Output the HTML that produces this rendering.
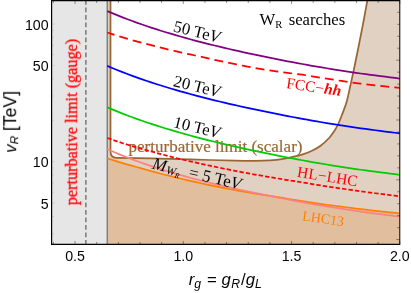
<!DOCTYPE html>
<html><head><meta charset="utf-8"><title>plot</title>
<style>html,body{margin:0;padding:0;background:#fff;overflow:hidden}svg{display:block;will-change:transform}.sans{font-family:"Liberation Sans",sans-serif}.serif{font-family:"Liberation Serif",serif}</style></head>
<body>
<svg width="411" height="293" viewBox="0 0 411 293">
<defs><clipPath id="cp"><rect x="51.6" y="0.6" width="348.2" height="243.7"/></clipPath></defs>
<g clip-path="url(#cp)">
<rect x="51.6" y="0" width="55.7" height="250" fill="#e6e6e6"/>
<path d="M107.3 -2 L107.3 250 L410 250 L410 -2 Z M110.5 -2 L110.5 151.5 C110.5 155.8 112.5 157.8 116.5 157.8 C122.08 157.88 139.42 158.08 150.00 158.30 C160.58 158.52 170.00 158.82 180.00 159.10 C190.00 159.38 200.83 159.73 210.00 160.00 C219.17 160.27 227.50 160.55 235.00 160.70 C242.50 160.85 249.17 160.95 255.00 160.90 C260.83 160.85 265.50 160.70 270.00 160.40 C274.50 160.10 277.83 159.77 282.00 159.10 C286.17 158.43 291.42 157.22 295.00 156.40 C298.58 155.58 300.67 155.13 303.50 154.20 C306.33 153.27 309.15 152.22 312.00 150.80 C314.85 149.38 317.75 147.83 320.60 145.70 C323.45 143.57 326.83 140.42 329.10 138.00 C331.37 135.58 332.63 133.62 334.20 131.20 C335.77 128.78 337.22 126.20 338.50 123.50 C339.78 120.80 340.55 118.58 341.90 115.00 C343.25 111.42 345.17 107.00 346.60 102.00 C348.03 97.00 349.23 90.67 350.50 85.00 C351.77 79.33 352.90 74.17 354.20 68.00 C355.50 61.83 356.83 55.33 358.30 48.00 C359.77 40.67 361.42 32.33 363.00 24.00 C364.58 15.67 367.00 2.33 367.80 -2.00 Z" fill="#e0d1c2" fill-rule="evenodd"/>
<path d="M107.30 158.26 L112.17 159.87 L117.05 161.41 L121.92 162.90 L126.80 164.32 L131.68 165.68 L136.55 167.00 L141.43 168.32 L146.30 169.74 L151.18 171.11 L156.05 172.44 L160.93 173.72 L165.80 174.97 L170.68 176.18 L175.55 177.36 L180.43 178.51 L185.30 179.68 L190.18 180.82 L195.05 181.94 L199.93 183.03 L204.80 184.09 L209.68 185.12 L214.55 186.13 L219.43 187.12 L224.30 188.08 L229.18 189.02 L234.05 189.93 L238.93 190.81 L243.80 191.68 L248.68 192.52 L253.55 193.35 L258.43 194.15 L263.30 194.92 L268.18 195.69 L273.05 196.44 L277.93 197.18 L282.80 197.96 L287.68 198.77 L292.55 199.57 L297.43 200.36 L302.30 201.13 L307.18 201.89 L312.05 202.64 L316.93 203.37 L321.80 204.08 L326.68 204.74 L331.55 205.39 L336.43 206.01 L341.30 206.63 L346.18 207.23 L351.05 207.84 L355.93 208.48 L360.80 209.10 L365.68 209.67 L370.55 210.24 L375.43 210.79 L380.30 211.34 L385.18 211.87 L390.05 212.41 L394.93 212.93 L399.80 213.44 L399.8 250 L107.3 250 Z" fill="#e1bf9e"/>
<line x1="107.3" y1="0" x2="107.3" y2="250" stroke="#808080" stroke-width="1.5"/>
<line x1="85.85" y1="0" x2="85.85" y2="250" stroke="#7f7f7f" stroke-width="1.6" stroke-dasharray="4.7 2.8"/>
<text class="serif" opacity="0.99" font-size="17" x="128.5" y="151.9" fill="#996633" stroke="#996633" stroke-width="0.2" textLength="174" lengthAdjust="spacingAndGlyphs">perturbative limit (scalar)</text>
<path d="M110.5 -2 L110.5 151.5 C110.5 155.8 112.5 157.8 116.5 157.8 C122.08 157.88 139.42 158.08 150.00 158.30 C160.58 158.52 170.00 158.82 180.00 159.10 C190.00 159.38 200.83 159.73 210.00 160.00 C219.17 160.27 227.50 160.55 235.00 160.70 C242.50 160.85 249.17 160.95 255.00 160.90 C260.83 160.85 265.50 160.70 270.00 160.40 C274.50 160.10 277.83 159.77 282.00 159.10 C286.17 158.43 291.42 157.22 295.00 156.40 C298.58 155.58 300.67 155.13 303.50 154.20 C306.33 153.27 309.15 152.22 312.00 150.80 C314.85 149.38 317.75 147.83 320.60 145.70 C323.45 143.57 326.83 140.42 329.10 138.00 C331.37 135.58 332.63 133.62 334.20 131.20 C335.77 128.78 337.22 126.20 338.50 123.50 C339.78 120.80 340.55 118.58 341.90 115.00 C343.25 111.42 345.17 107.00 346.60 102.00 C348.03 97.00 349.23 90.67 350.50 85.00 C351.77 79.33 352.90 74.17 354.20 68.00 C355.50 61.83 356.83 55.33 358.30 48.00 C359.77 40.67 361.42 32.33 363.00 24.00 C364.58 15.67 367.00 2.33 367.80 -2.00" fill="none" stroke="#996633" stroke-width="1.75"/>
<path d="M107.30 11.09 L112.17 13.16 L117.05 15.16 L121.92 17.10 L126.80 18.98 L131.68 20.80 L136.55 22.57 L141.43 24.30 L146.30 25.97 L151.18 27.60 L156.05 29.18 L160.93 30.72 L165.80 32.22 L170.68 33.69 L175.55 35.12 L180.43 36.52 L185.30 37.89 L190.18 39.23 L195.05 40.54 L199.93 41.83 L204.80 43.08 L209.68 44.31 L214.55 45.51 L219.43 46.69 L224.30 47.85 L229.18 48.99 L234.05 50.11 L238.93 51.21 L243.80 52.28 L248.68 53.34 L253.55 54.39 L258.43 55.41 L263.30 56.42 L268.18 57.42 L273.05 58.41 L277.93 59.38 L282.80 60.33 L287.68 61.27 L292.55 62.20 L297.43 63.11 L302.30 64.01 L307.18 64.90 L312.05 65.77 L316.93 66.63 L321.80 67.47 L326.68 68.26 L331.55 69.04 L336.43 69.81 L341.30 70.57 L346.18 71.32 L351.05 72.06 L355.93 72.78 L360.80 73.50 L365.68 74.16 L370.55 74.81 L375.43 75.46 L380.30 76.09 L385.18 76.72 L390.05 77.34 L394.93 77.95 L399.80 78.56" fill="none" stroke="#800080" stroke-width="1.75"/>
<path d="M107.30 65.88 L112.17 67.95 L117.05 69.96 L121.92 71.89 L126.80 73.77 L131.68 75.60 L136.55 77.37 L141.43 79.09 L146.30 80.77 L151.18 82.40 L156.05 83.98 L160.93 85.52 L165.80 87.02 L170.68 88.49 L175.55 89.92 L180.43 91.32 L185.30 92.69 L190.18 94.03 L195.05 95.34 L199.93 96.62 L204.80 97.88 L209.68 99.10 L214.55 100.31 L219.43 101.49 L224.30 102.65 L229.18 103.79 L234.05 104.91 L238.93 106.00 L243.80 107.08 L248.68 108.14 L253.55 109.18 L258.43 110.21 L263.30 111.22 L268.18 112.22 L273.05 113.20 L277.93 114.17 L282.80 115.13 L287.68 116.07 L292.55 116.99 L297.43 117.91 L302.30 118.80 L307.18 119.69 L312.05 120.57 L316.93 121.43 L321.80 122.26 L326.68 123.05 L331.55 123.83 L336.43 124.60 L341.30 125.36 L346.18 126.11 L351.05 126.85 L355.93 127.58 L360.80 128.29 L365.68 128.96 L370.55 129.61 L375.43 130.25 L380.30 130.89 L385.18 131.52 L390.05 132.14 L394.93 132.75 L399.80 133.35" fill="none" stroke="#0000ff" stroke-width="1.75"/>
<path d="M107.30 107.34 L112.17 109.41 L117.05 111.41 L121.92 113.35 L126.80 115.23 L131.68 117.05 L136.55 118.82 L141.43 120.54 L146.30 122.22 L151.18 123.85 L156.05 125.43 L160.93 126.97 L165.80 128.47 L170.68 129.94 L175.55 131.37 L180.43 132.77 L185.30 134.14 L190.18 135.48 L195.05 136.79 L199.93 138.07 L204.80 139.33 L209.68 140.56 L214.55 141.76 L219.43 142.94 L224.30 144.10 L229.18 145.24 L234.05 146.36 L238.93 147.45 L243.80 148.53 L248.68 149.59 L253.55 150.63 L258.43 151.66 L263.30 152.67 L268.18 153.67 L273.05 154.66 L277.93 155.62 L282.80 156.58 L287.68 157.52 L292.55 158.44 L297.43 159.36 L302.30 160.26 L307.18 161.14 L312.05 162.02 L316.93 162.88 L321.80 163.71 L326.68 164.51 L331.55 165.29 L336.43 166.06 L341.30 166.82 L346.18 167.56 L351.05 168.30 L355.93 169.03 L360.80 169.75 L365.68 170.41 L370.55 171.06 L375.43 171.71 L380.30 172.34 L385.18 172.97 L390.05 173.59 L394.93 174.20 L399.80 174.80" fill="none" stroke="#00cc00" stroke-width="1.75"/>
<path d="M107.30 158.26 L112.17 159.87 L117.05 161.41 L121.92 162.90 L126.80 164.32 L131.68 165.68 L136.55 167.00 L141.43 168.32 L146.30 169.74 L151.18 171.11 L156.05 172.44 L160.93 173.72 L165.80 174.97 L170.68 176.18 L175.55 177.36 L180.43 178.51 L185.30 179.68 L190.18 180.82 L195.05 181.94 L199.93 183.03 L204.80 184.09 L209.68 185.12 L214.55 186.13 L219.43 187.12 L224.30 188.08 L229.18 189.02 L234.05 189.93 L238.93 190.81 L243.80 191.68 L248.68 192.52 L253.55 193.35 L258.43 194.15 L263.30 194.92 L268.18 195.69 L273.05 196.44 L277.93 197.18 L282.80 197.96 L287.68 198.77 L292.55 199.57 L297.43 200.36 L302.30 201.13 L307.18 201.89 L312.05 202.64 L316.93 203.37 L321.80 204.08 L326.68 204.74 L331.55 205.39 L336.43 206.01 L341.30 206.63 L346.18 207.23 L351.05 207.84 L355.93 208.48 L360.80 209.10 L365.68 209.67 L370.55 210.24 L375.43 210.79 L380.30 211.34 L385.18 211.87 L390.05 212.41 L394.93 212.93 L399.80 213.44" fill="none" stroke="#ff8000" stroke-width="1.7"/>
<path d="M107.30 149.19 L112.17 151.31 L117.05 153.35 L121.92 155.34 L126.80 157.26 L131.68 159.13 L136.55 160.95 L141.43 162.72 L146.30 164.44 L151.18 166.10 L156.05 167.68 L160.93 169.22 L165.80 170.72 L170.68 172.19 L175.55 173.62 L180.43 175.02 L185.30 176.39 L190.18 177.73 L195.05 179.04 L199.93 180.33 L204.80 181.56 L209.68 182.76 L214.55 183.94 L219.43 185.10 L224.30 186.23 L229.18 187.35 L234.05 188.44 L238.93 189.51 L243.80 190.57 L248.68 191.60 L253.55 192.62 L258.43 193.62 L263.30 194.62 L268.18 195.62 L273.05 196.60 L277.93 197.56 L282.80 198.51 L287.68 199.45 L292.55 200.37 L297.43 201.28 L302.30 202.18 L307.18 203.06 L312.05 203.93 L316.93 204.79 L321.80 205.62 L326.68 206.41 L331.55 207.19 L336.43 207.95 L341.30 208.71 L346.18 209.45 L351.05 210.19 L355.93 210.92 L360.80 211.62 L365.68 212.28 L370.55 212.93 L375.43 213.57 L380.30 214.21 L385.18 214.83 L390.05 215.45 L394.93 216.06 L399.80 216.66" fill="none" stroke="#ff8080" stroke-width="1.75"/>
<path d="M107.30 32.46 L112.17 34.10 L117.05 35.67 L121.92 37.18 L126.80 38.63 L131.68 40.02 L136.55 41.36 L141.43 42.65 L146.30 43.90 L151.18 45.13 L156.05 46.43 L160.93 47.68 L165.80 48.89 L170.68 50.08 L175.55 51.22 L180.43 52.33 L185.30 53.42 L190.18 54.47 L195.05 55.49 L199.93 56.49 L204.80 57.59 L209.68 58.70 L214.55 59.79 L219.43 60.86 L224.30 61.90 L229.18 62.92 L234.05 63.92 L238.93 64.91 L243.80 65.87 L248.68 66.81 L253.55 67.74 L258.43 68.65 L263.30 69.45 L268.18 70.20 L273.05 70.93 L277.93 71.64 L282.80 72.34 L287.68 72.98 L292.55 73.55 L297.43 74.11 L302.30 74.66 L307.18 75.45 L312.05 76.27 L316.93 77.08 L321.80 77.86 L326.68 78.59 L331.55 79.34 L336.43 80.14 L341.30 80.92 L346.18 81.69 L351.05 82.45 L355.93 83.11 L360.80 83.71 L365.68 84.26 L370.55 84.79 L375.43 85.32 L380.30 85.84 L385.18 86.35 L390.05 86.85 L394.93 87.35 L399.80 87.84" fill="none" stroke="#ff0000" stroke-width="1.75" stroke-dasharray="8.9 5.1" stroke-dashoffset="1.35"/>
<path d="M107.30 137.97 L112.17 139.70 L117.05 141.36 L121.92 142.96 L126.80 144.50 L131.68 145.98 L136.55 147.41 L141.43 148.79 L146.30 150.13 L151.18 151.45 L156.05 152.81 L160.93 154.14 L165.80 155.43 L170.68 156.68 L175.55 157.90 L180.43 159.09 L185.30 160.24 L190.18 161.36 L195.05 162.46 L199.93 163.53 L204.80 164.62 L209.68 165.69 L214.55 166.73 L219.43 167.75 L224.30 168.75 L229.18 169.73 L234.05 170.69 L238.93 171.62 L243.80 172.54 L248.68 173.44 L253.55 174.32 L258.43 175.18 L263.30 176.03 L268.18 176.87 L273.05 177.70 L277.93 178.50 L282.80 179.30 L287.68 180.08 L292.55 180.84 L297.43 181.59 L302.30 182.39 L307.18 183.22 L312.05 184.05 L316.93 184.86 L321.80 185.65 L326.68 186.39 L331.55 187.12 L336.43 187.84 L341.30 188.55 L346.18 189.25 L351.05 189.95 L355.93 190.66 L360.80 191.35 L365.68 192.00 L370.55 192.63 L375.43 193.25 L380.30 193.87 L385.18 194.48 L390.05 195.08 L394.93 195.67 L399.80 196.25" fill="none" stroke="#ff0000" stroke-width="1.75" stroke-dasharray="4.4 2.1"/>
</g>
<path d="M51.6 233.70 h2.4 M51.6 216.50 h2.4 M51.6 203.15 h3.4 M51.6 192.25 h2.4 M51.6 183.03 h2.4 M51.6 175.04 h2.4 M51.6 168.00 h2.4 M51.6 161.70 h3.4 M51.6 120.25 h2.4 M51.6 96.00 h2.4 M51.6 78.80 h2.4 M51.6 65.45 h3.4 M51.6 54.55 h2.4 M51.6 45.33 h2.4 M51.6 37.34 h2.4 M51.6 30.30 h2.4 M51.6 24.00 h3.4" stroke="#000" stroke-opacity="0.13" stroke-width="0.7" fill="none"/>
<path d="M53.40 244.3 v-2.4 M53.40 0.6 v2.4 M75.05 244.3 v-3.4 M75.05 0.6 v3.4 M96.70 244.3 v-2.4 M96.70 0.6 v2.4 M118.35 244.3 v-2.4 M118.35 0.6 v2.4 M140.00 244.3 v-2.4 M140.00 0.6 v2.4 M161.65 244.3 v-2.4 M161.65 0.6 v2.4 M183.30 244.3 v-3.4 M183.30 0.6 v3.4 M204.95 244.3 v-2.4 M204.95 0.6 v2.4 M226.60 244.3 v-2.4 M226.60 0.6 v2.4 M248.25 244.3 v-2.4 M248.25 0.6 v2.4 M269.90 244.3 v-2.4 M269.90 0.6 v2.4 M291.55 244.3 v-3.4 M291.55 0.6 v3.4 M313.20 244.3 v-2.4 M313.20 0.6 v2.4 M334.85 244.3 v-2.4 M334.85 0.6 v2.4 M356.50 244.3 v-2.4 M356.50 0.6 v2.4 M378.15 244.3 v-2.4 M378.15 0.6 v2.4 M399.80 244.3 v-3.4 M399.80 0.6 v3.4 M399.8 239.60 h-3.6 M399.8 227.64 h-2.6 M399.8 215.68 h-2.6 M399.8 203.72 h-2.6 M399.8 191.76 h-2.6 M399.8 179.80 h-3.6 M399.8 167.83 h-2.6 M399.8 155.87 h-2.6 M399.8 143.91 h-2.6 M399.8 131.95 h-2.6 M399.8 119.99 h-3.6 M399.8 108.03 h-2.6 M399.8 96.07 h-2.6 M399.8 84.11 h-2.6 M399.8 72.15 h-2.6 M399.8 60.19 h-3.6 M399.8 48.23 h-2.6 M399.8 36.27 h-2.6 M399.8 24.31 h-2.6 M399.8 12.35 h-2.6" stroke="#000" stroke-opacity="0.6" stroke-width="0.7" fill="none"/>
<path d="M51 0H400.3V244.9H51Z M52.2 1.15V243.85H399.3V1.15Z" fill="#000" fill-rule="evenodd"/>
<g class="sans" font-size="14.2" fill="#000" opacity="0.99">
<text x="48.6" y="29.70" text-anchor="end">100</text>
<text x="48.6" y="71.15" text-anchor="end">50</text>
<text x="48.6" y="167.40" text-anchor="end">10</text>
<text x="48.6" y="208.85" text-anchor="end">5</text>
<text x="75.05" y="261.3" text-anchor="middle">0.5</text>
<text x="183.30" y="261.3" text-anchor="middle">1.0</text>
<text x="291.55" y="261.3" text-anchor="middle">1.5</text>
<text x="399.80" y="261.3" text-anchor="middle">2.0</text>
</g>
<g class="sans" font-size="16.8" fill="#000" opacity="0.99">
<text transform="translate(16.2,152.8) rotate(-90)"><tspan font-style="italic">v</tspan><tspan font-style="italic" font-size="11.8" dy="2">R</tspan><tspan dy="-2" font-size="17.6"> [TeV]</tspan></text>
<text x="188.7" y="285"><tspan font-style="italic">r</tspan><tspan font-style="italic" font-size="12.2" dy="2.8">g</tspan><tspan dy="-2.8" dx="1.3"> = </tspan><tspan font-style="italic">g</tspan><tspan font-style="italic" font-size="12.2" dy="2.8" dx="0.3">R</tspan><tspan dy="-2.8" dx="1.0">/</tspan><tspan font-style="italic">g</tspan><tspan font-style="italic" font-size="12.2" dy="2.8">L</tspan></text>
</g>
<g class="serif" font-size="17" opacity="0.99">
<text transform="translate(76.9,205.25) rotate(-90)" fill="#ff0000" stroke="#ff0000" stroke-width="0.3" font-size="16.2">perturbative limit (gauge)</text>
<text transform="translate(172.6,31.3) rotate(14)" fill="#000" font-size="16.7">50 Te<tspan font-style="italic">V</tspan></text>
<text transform="translate(172.6,85.9) rotate(14)" fill="#000" font-size="16.7">20 Te<tspan font-style="italic">V</tspan></text>
<text transform="translate(172.6,126.9) rotate(14)" fill="#000" font-size="16.7">10 Te<tspan font-style="italic">V</tspan></text>
<text y="25" fill="#000" font-size="16.7"><tspan x="259.5">W</tspan><tspan font-size="10.5" dy="3.1">R</tspan><tspan x="288.7" dy="-3.1">searches</tspan></text>
<text transform="translate(285.8,88.0) rotate(8.2)" fill="#ff0000" font-size="15.5">FCC−<tspan font-style="italic" font-weight="bold">hh</tspan></text>
<text transform="translate(296.6,176.7) rotate(9.2)" fill="#ff0000" font-size="15.5" textLength="61" lengthAdjust="spacing">HL−LHC</text>
<text transform="translate(301.7,220.2) rotate(8.1)" fill="#ff8000" font-size="14">LHC13</text>
<text transform="translate(151.4,168.5) rotate(13.5)" fill="#000"><tspan x="0" font-style="italic">M</tspan><tspan x="14.8" font-size="11.5" font-style="italic" dy="1.6">W</tspan><tspan font-size="7.5" dy="1.8" font-style="italic">R</tspan><tspan x="37.6" dy="-3.4">=</tspan><tspan x="51.2">5 Te</tspan><tspan font-style="italic">V</tspan></text>
</g>
</svg>
</body></html>
